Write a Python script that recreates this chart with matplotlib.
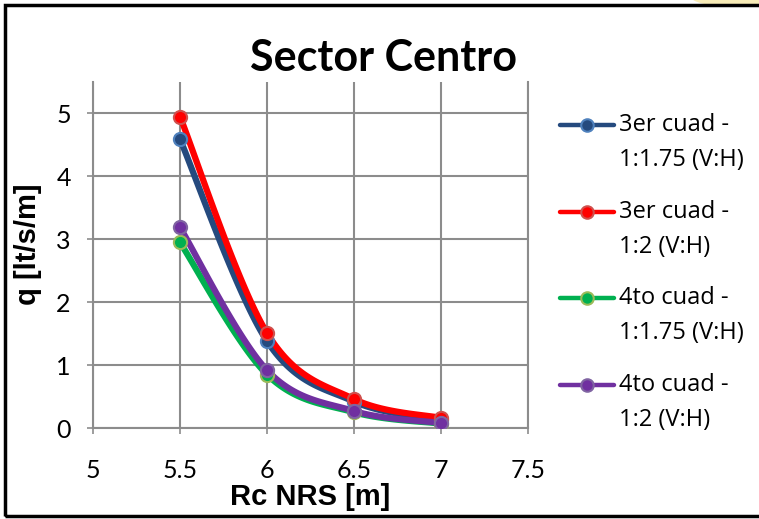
import numpy as np
import matplotlib
matplotlib.use("Agg")
import matplotlib.pyplot as plt
from matplotlib.patches import Rectangle, Ellipse
from matplotlib.lines import Line2D

rc = [5.5, 6.0, 6.5, 7.0]
q_3er_175 = [4.59, 1.38, 0.42, 0.13]
q_3er_2 = [4.95, 1.51, 0.46, 0.16]
q_4to_175 = [2.95, 0.85, 0.25, 0.07]
q_4to_2 = [3.19, 0.92, 0.27, 0.08]

labels = ["3er cuad -\n1:1.75 (V:H)", "3er cuad -\n1:2 (V:H)",
          "4to cuad -\n1:1.75 (V:H)", "4to cuad -\n1:2 (V:H)"]
series = [q_3er_175, q_3er_2, q_4to_175, q_4to_2]
colors = ["#254A7E", "#FF0000", "#00B050", "#7030A0"]
edges = ["#4F81BD", "#D0504D", "#9BBB59", "#8064A2"]

xticks = [5, 5.5, 6, 6.5, 7, 7.5]
xticklabels = ["5", "5.5", "6", "6.5", "7", "7.5"]
yticks = [0, 1, 2, 3, 4, 5]

plt.rcParams['font.family'] = ['Lato', 'DejaVu Sans']

W, H = 759, 519


def fx(px):
    return px / W


def fy(py):
    return 1 - py / H


def smooth(x, y, n=40):
    # bezier smoothing like spreadsheet "smoothed line"
    p = np.column_stack([x, y])
    pts = [p[0:1]]
    for i in range(len(p) - 1):
        p0 = p[i - 1] if i > 0 else p[i]
        p1, p2 = p[i], p[i + 1]
        p3 = p[i + 2] if i + 2 < len(p) else p[i + 1]
        c1 = p1 + (p2 - p0) / 6.0
        c2 = p2 - (p3 - p1) / 6.0
        t = np.linspace(0, 1, n)[1:, None]
        b = ((1 - t) ** 3) * p1 + 3 * ((1 - t) ** 2) * t * c1 + 3 * (1 - t) * t ** 2 * c2 + t ** 3 * p2
        pts.append(b)
    pts = np.vstack(pts)
    return pts[:, 0], pts[:, 1]


fig = plt.figure(figsize=(W / 100, H / 100), dpi=100)
ax = fig.add_axes([fx(93), fy(428), fx(528) - fx(93), fy(82) - fy(428)])

for y, c, e in zip(series, colors, edges):
    sx, sy = smooth(rc, y)
    ax.plot(sx, sy, color=c, lw=4.5, solid_capstyle="round", zorder=3)
    ax.plot(rc, y, ls="none", marker="o", ms=9.5, mfc=c, mec=e, mew=1.5, zorder=4)

ax.set_xlim(5, 7.5)
ax.set_ylim(0, 5.5)
ax.set_xticks(xticks)
ax.set_xticklabels(xticklabels)
ax.set_yticks(yticks)
ax.grid(True, color="#8C8C8C", lw=1.5)
ax.set_axisbelow(True)
ax.spines["top"].set_visible(False)
for s in ["left", "bottom", "right"]:
    ax.spines[s].set_color("#8C8C8C")
    ax.spines[s].set_linewidth(1.5)
ax.tick_params(length=4, width=1.2, color="#8C8C8C", labelsize=18)
ax.tick_params(axis="x", pad=18)
ax.tick_params(axis="y", pad=12)

lab_font = ["Liberation Sans", "DejaVu Sans"]
ax.set_xlabel("Rc NRS [m]", fontsize=21, fontweight="bold", labelpad=1, family=lab_font)
ax.set_ylabel("q [lt/s/m]", fontsize=21, fontweight="bold", family=lab_font)
ax.yaxis.set_label_coords(-0.117, 0.53)

fig.text(fx(383), fy(58), "Sector Centro", fontsize=31, fontweight="bold",
         ha="center", va="center",
         bbox=dict(fc="white", ec="none", pad=2))

# legend entries, key beside the first text line
row_y = [125, 212, 298, 385]
for c, e, lab, ry in zip(colors, edges, labels, row_y):
    fig.add_artist(Line2D([fx(560), fx(614)], [fy(ry), fy(ry)], color=c, lw=3.2,
                          solid_capstyle="round"))
    fig.add_artist(Line2D([fx(587)], [fy(ry)], ls="none", marker="o", ms=9,
                          mfc=c, mec=e, mew=1.5))
    for k, line in enumerate(lab.split("\n")):
        fig.text(fx(619), fy(ry + 35 * k), line, fontsize=17, ha="left", va="center",
                 family=["Open Sans", "DejaVu Sans"])

# outer frame and the corner shape
fig.patches.append(Ellipse((fx(735), fy(-4)), fx(90), 22 / H, transform=fig.transFigure,
                           fc="#F8ECB8", ec="none", zorder=-1))
fig.patches.append(Rectangle((fx(5), fy(516)), fx(770), 511 / H, transform=fig.transFigure,
                             fill=False, ec="black", lw=2.5))

fig.savefig("out.png", dpi=100)
